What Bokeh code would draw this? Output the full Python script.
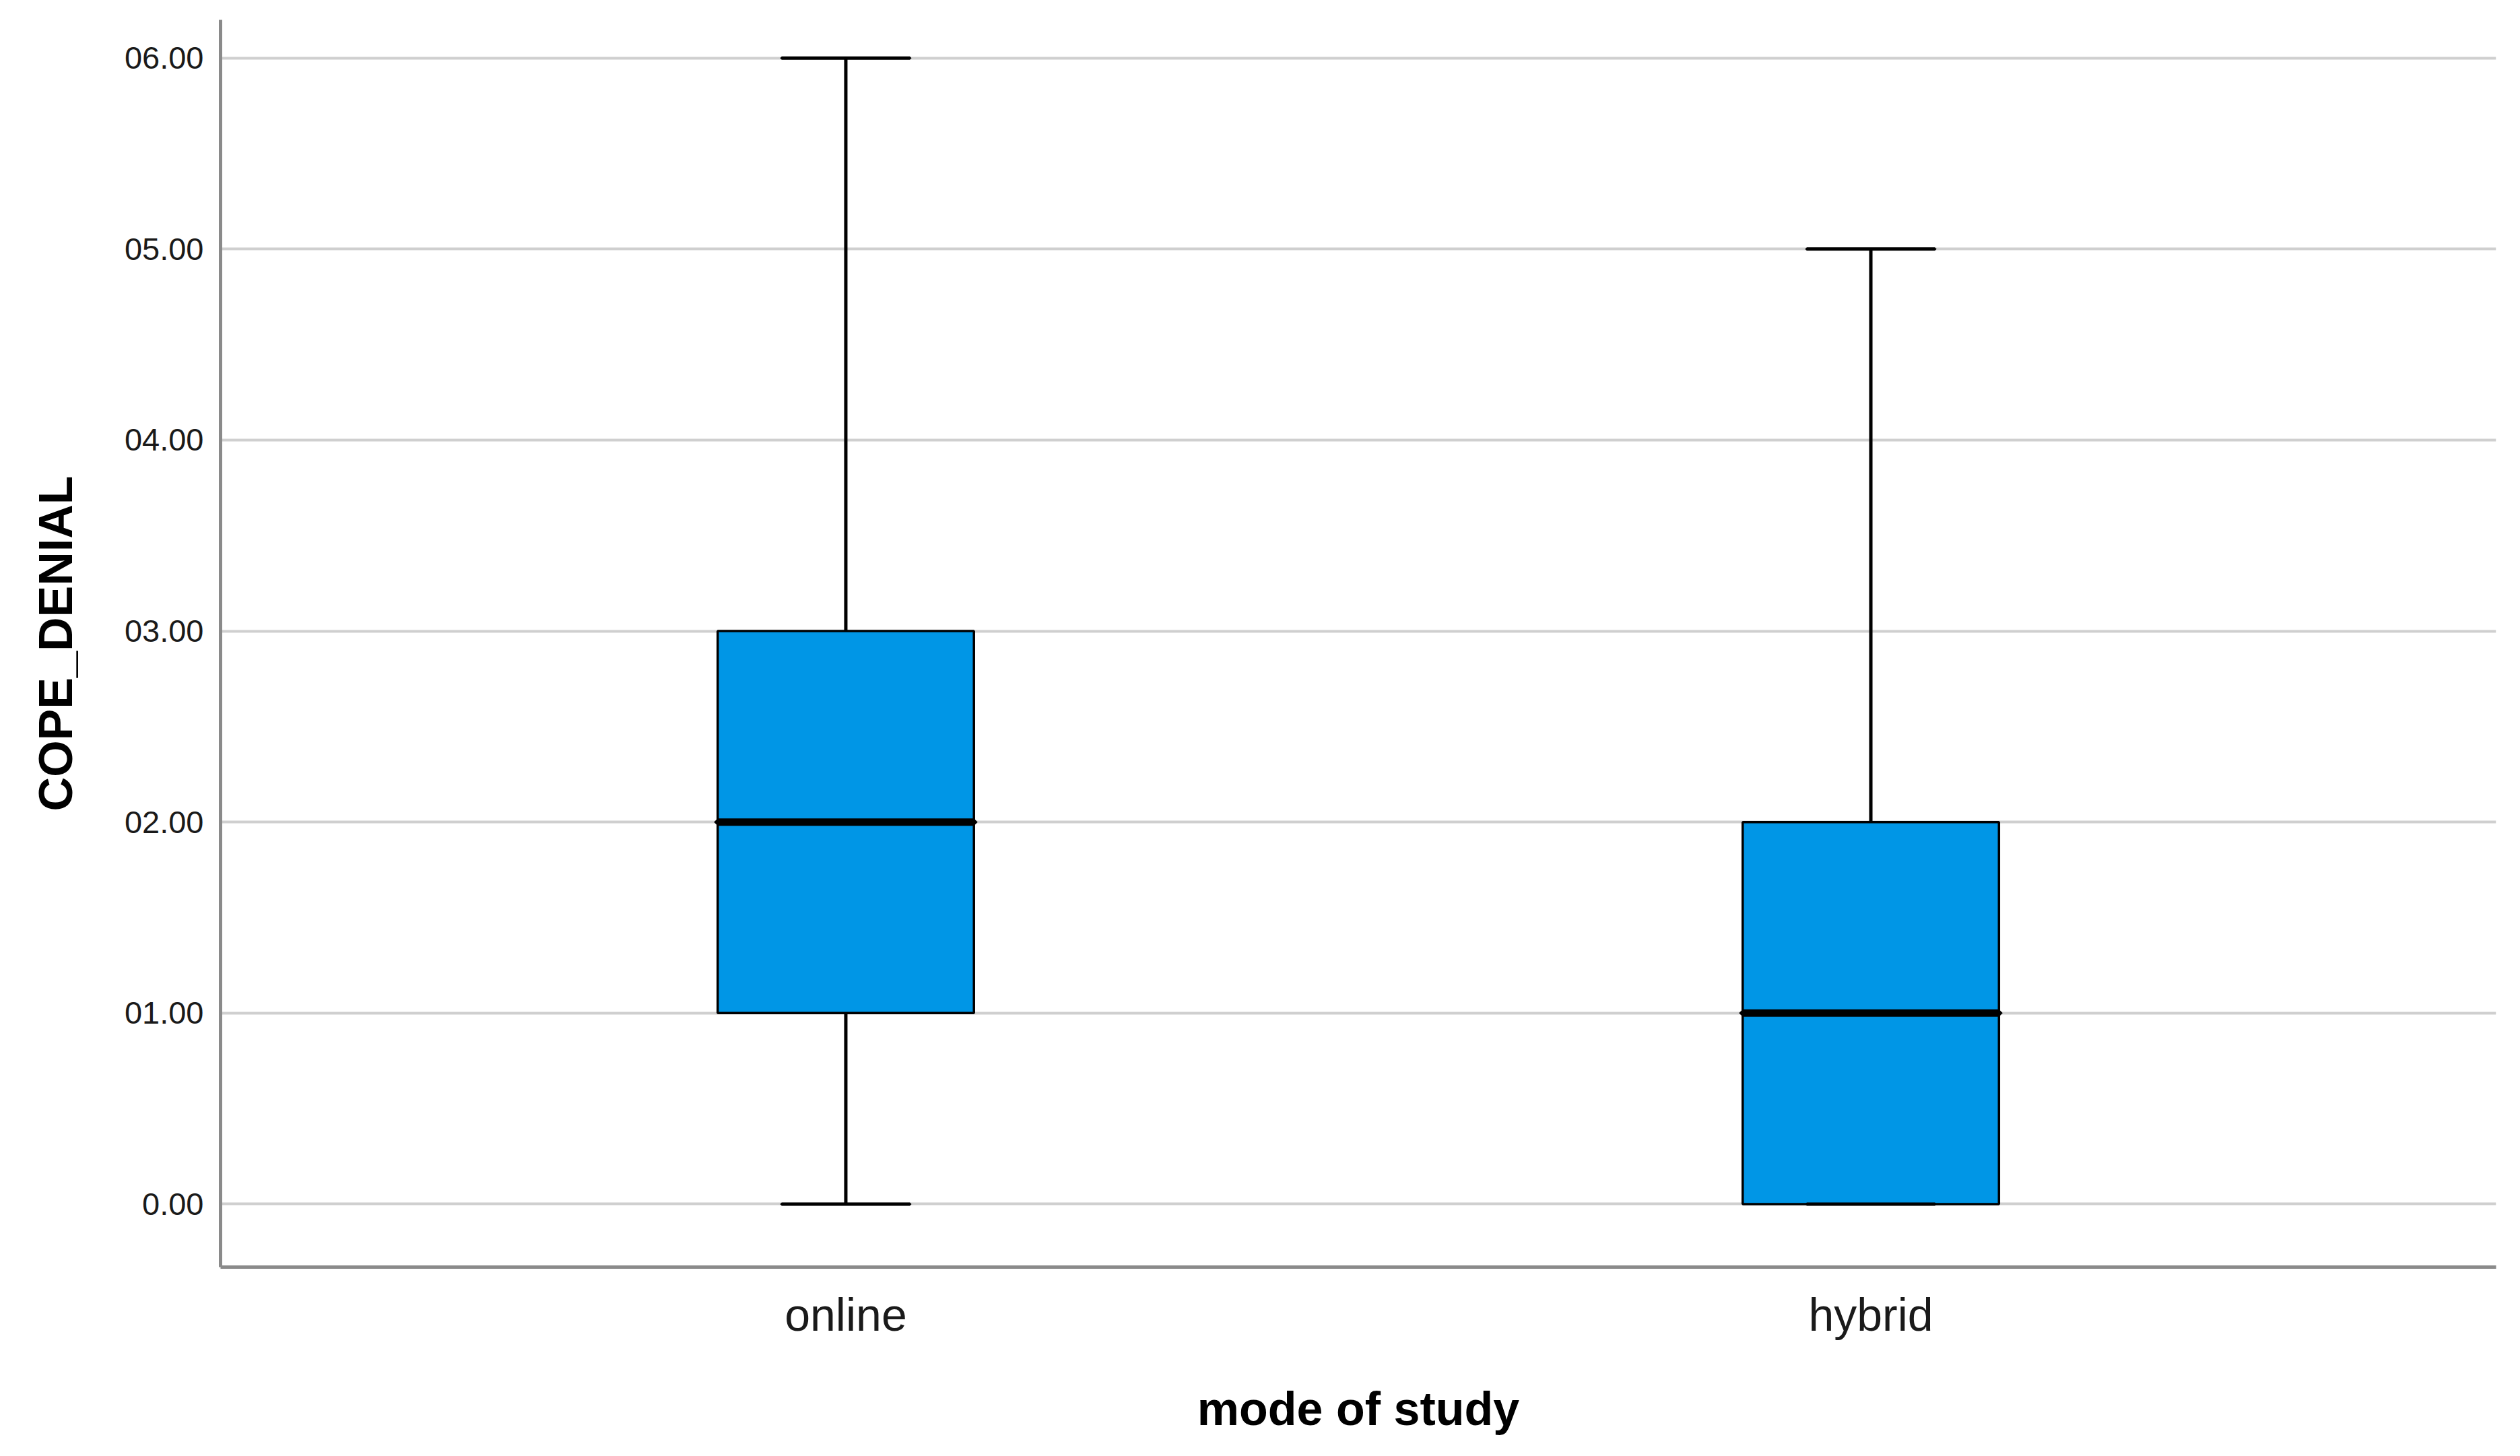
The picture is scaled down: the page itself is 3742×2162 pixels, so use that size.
from bokeh.plotting import figure
from bokeh.models import FactorRange, FixedTicker, ColumnDataSource
from bokeh.embed import file_html
from bokeh.resources import INLINE

# ---- data ----
categories = ["online", "hybrid"]
whisker_low = [0.0, 0.0]
q1 = [1.0, 0.0]
median = [2.0, 1.0]
q3 = [3.0, 2.0]
whisker_high = [6.0, 5.0]
y_ticks = [0, 1, 2, 3, 4, 5, 6]
y_tick_labels = ["0.00", "01.00", "02.00", "03.00", "04.00", "05.00", "06.00"]
x_title = "mode of study"
y_title = "COPE_DENIAL"

src = ColumnDataSource(dict(cat=categories, lo=whisker_low, q1=q1, med=median, q3=q3, hi=whisker_high))

p = figure(width=3726, height=2146, output_backend="svg", toolbar_location=None,
           x_range=FactorRange(factors=categories, range_padding=0.11, range_padding_units="absolute"),
           y_range=(-0.33, 6.2))
p.min_border_left = 327
p.min_border_right = 20
p.min_border_top = 29
p.min_border_bottom = 265
p.outline_line_color = None
p.background_fill_color = "white"
p.border_fill_color = "white"

# grid
p.xgrid.grid_line_color = None
p.ygrid.grid_line_color = "#cfcfcf"
p.ygrid.grid_line_width = 4
p.yaxis.ticker = FixedTicker(ticks=y_ticks)
p.yaxis.major_label_overrides = {t: l for t, l in zip(y_ticks, y_tick_labels)}

font = "Liberation Sans"
for ax in (p.xaxis[0], p.yaxis[0]):
    ax.axis_line_color = "#8a8a8a"
    ax.axis_line_width = 5
    ax.major_tick_line_color = None
    ax.minor_tick_line_color = None
    ax.major_tick_out = 0
    ax.major_tick_in = 0
    ax.major_label_text_color = "#1a1a1a"
    ax.major_label_text_font = font
    ax.axis_label_text_font = font
    ax.axis_label_text_font_style = "bold"
    ax.axis_label_text_color = "#000000"

p.yaxis.major_label_text_font_size = "47px"
p.yaxis.major_label_standoff = 25
p.xaxis.major_label_text_font_size = "68px"
p.xaxis.major_label_standoff = 32
p.xaxis.axis_label = x_title
p.yaxis.axis_label = y_title
p.xaxis.axis_label_text_font_size = "70px"
p.yaxis.axis_label_text_font_size = "70px"
p.xaxis.axis_label_standoff = 60
p.yaxis.axis_label_standoff = 60

# whiskers
p.segment(x0="cat", x1="cat", y0="q3", y1="hi", source=src, line_color="black", line_width=5)
p.segment(x0="cat", x1="cat", y0="lo", y1="q1", source=src, line_color="black", line_width=5)
# box
p.vbar(x="cat", width=0.25, top="q3", bottom="q1", source=src,
       fill_color="#0096e6", line_color="black", line_width=3.5)
# caps
p.rect(x="cat", y="hi", width=0.125, height=0.0001, source=src, line_color="black", line_width=5, fill_color=None)
p.rect(x="cat", y="lo", width=0.125, height=0.0001, source=src, line_color="black", line_width=5, fill_color=None)
# median
p.rect(x="cat", y="med", width=0.25, height=0.0001, source=src, line_color="black", line_width=11, fill_color=None)

open("out.html", "w").write(file_html(p, INLINE))
